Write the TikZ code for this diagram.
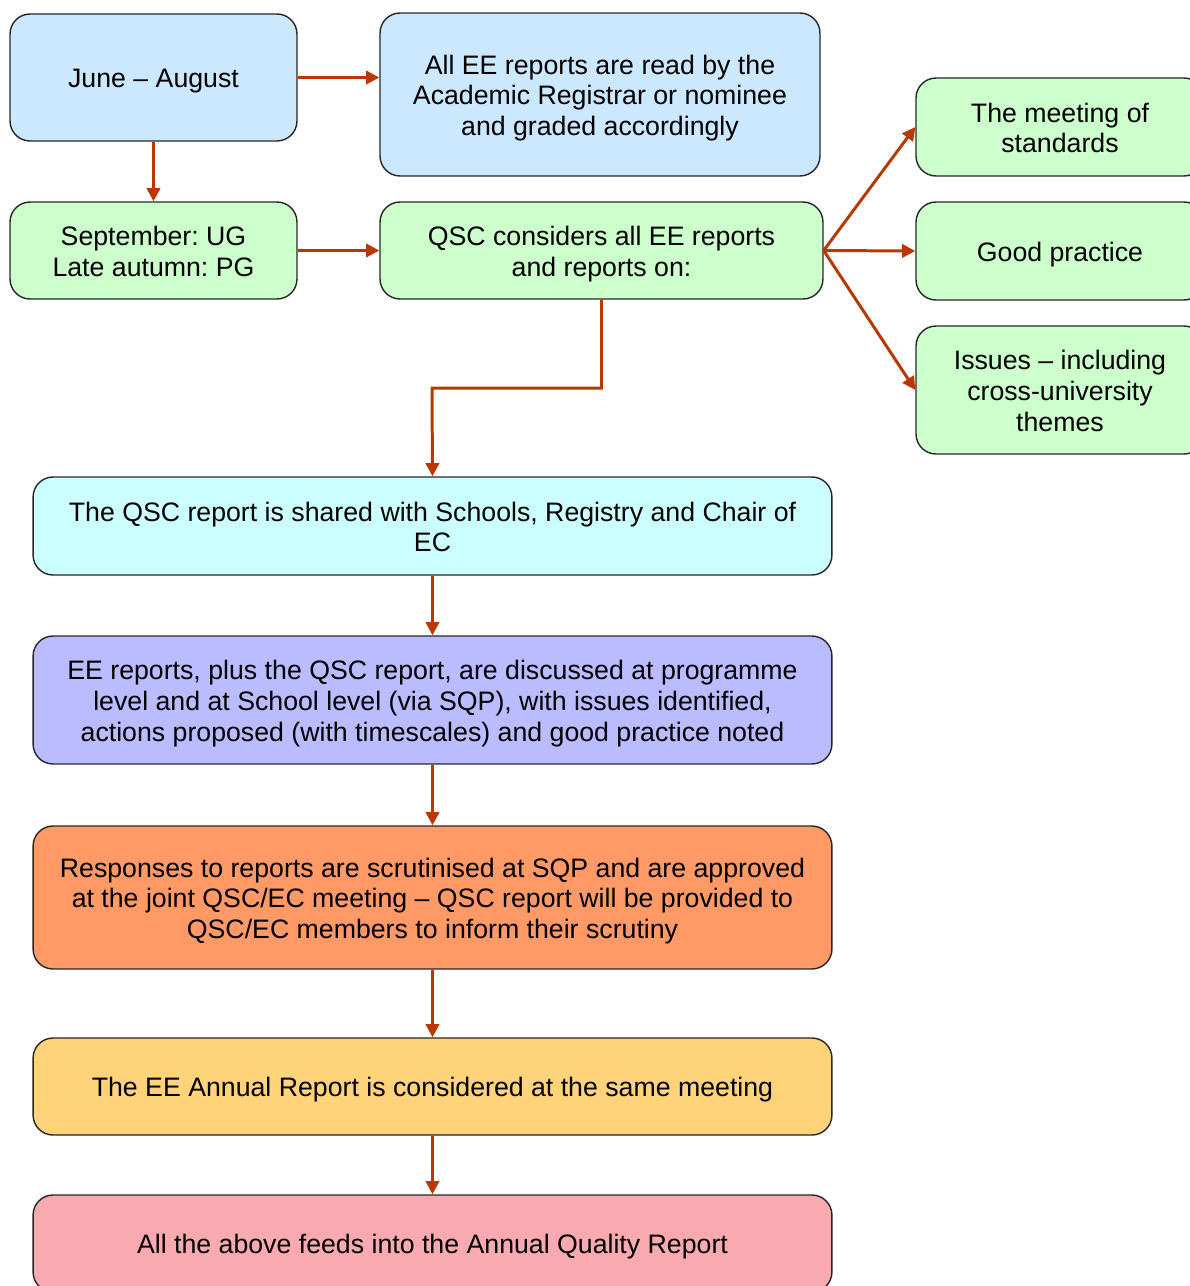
\documentclass[tikz,border=0pt]{standalone}
\usepackage{fontspec}
\setmainfont{Liberation Sans}
\usetikzlibrary{arrows.meta}

\definecolor{boxblue}{HTML}{CCE8FF}
\definecolor{boxgreen}{HTML}{CCFFCC}
\definecolor{boxcyan}{HTML}{CCFFFF}
\definecolor{boxlilac}{HTML}{BBBBFF}
\definecolor{boxorange}{HTML}{FF9966}
\definecolor{boxyellow}{HTML}{FFD37A}
\definecolor{boxpink}{HTML}{F9AAB0}
\definecolor{flowline}{HTML}{B83800}

\begin{document}
\begin{tikzpicture}[x=0.02cm,y=-0.02cm,
    stage/.style={draw=black!85,line width=0.8pt,rounded corners=0.4cm,align=center,
        font=\fontsize{15.2}{17.6}\selectfont\frenchspacing,inner sep=0pt,
        text height=15.5pt,text depth=3.6pt},
    twolines/.style={text height=33.1pt},
    threelines/.style={text height=50.7pt},
    flow/.style={draw=flowline,line width=1.7pt,-{Triangle[length=7.5pt,width=7.5pt]}}]
            \useasboundingbox (0,0) rectangle (1190,1286);

            \node[stage,fill=boxblue,minimum width=5.74cm,minimum height=2.54cm] (june) at (153.5,77.5) {June -- August};
            \node[stage,threelines,fill=boxblue,minimum width=8.8cm,minimum height=3.26cm] (read) at (600,94.5) {All EE reports are read by the\\Academic Registrar or nominee\\and graded accordingly};
            \node[stage,twolines,fill=boxgreen,minimum width=5.74cm,minimum height=1.94cm] (sept) at (153.5,250.5) {September: UG\\Late autumn: PG};
            \node[stage,twolines,fill=boxgreen,minimum width=8.86cm,minimum height=1.94cm] (qsc) at (601.5,250.5) {QSC considers all EE reports\\and reports on:};

            \node[stage,twolines,fill=boxgreen,minimum width=5.76cm,minimum height=1.96cm] (standards) at (1060,127) {The meeting of\\standards};
            \node[stage,fill=boxgreen,minimum width=5.76cm,minimum height=1.96cm] (practice) at (1060,251) {Good practice};
            \node[stage,threelines,fill=boxgreen,minimum width=5.76cm,minimum height=2.56cm] (issues) at (1060,390) {Issues -- including\\cross-university\\themes};

            \node[stage,twolines,fill=boxcyan,minimum width=15.98cm,minimum height=1.96cm] (shared) at (432.5,526) {The QSC report is shared with Schools, Registry and Chair of\\EC};
            \node[stage,threelines,fill=boxlilac,minimum width=15.98cm,minimum height=2.56cm] (discuss) at (432.5,700) {EE reports, plus the QSC report, are discussed at programme\\level and at School level (via SQP), with issues identified,\\actions proposed (with timescales) and good practice noted};
            \node[stage,threelines,fill=boxorange,minimum width=15.98cm,minimum height=2.86cm] (scrutiny) at (432.5,897.5) {Responses to reports are scrutinised at SQP and are approved\\at the joint QSC/EC meeting -- QSC report will be provided to\\QSC/EC members to inform their scrutiny};
            \node[stage,fill=boxyellow,minimum width=15.98cm,minimum height=1.94cm] (annual) at (432.5,1086.5) {The EE Annual Report is considered at the same meeting};
            \node[stage,fill=boxpink,minimum width=15.98cm,minimum height=1.94cm] (quality) at (432.5,1243.5) {All the above feeds into the Annual Quality Report};

            \coordinate (elbow) at (432,388);

            \draw[flow] (june.east) -- (june.east -| read.west);
            \draw[flow] (june.south) -- (sept.north);
            \draw[flow] (sept.east) -- (qsc.west);
            \draw[flow] (qsc.east) -- (standards.west);
            \draw[flow] (qsc.east) -- (practice.west);
            \draw[flow] (qsc.east) -- (issues.west);
            %\draw[flow] (qsc.south) -- (shared.north);
            \draw[flow] (qsc.south) |- (elbow) -- (shared.north);
            \draw[flow] (shared.south) -- (discuss.north);
            \draw[flow] (discuss.south) -- (scrutiny.north);
            \draw[flow] (scrutiny.south) -- (annual.north);
            \draw[flow] (annual.south) -- (quality.north);

        \end{tikzpicture}
\end{document}
